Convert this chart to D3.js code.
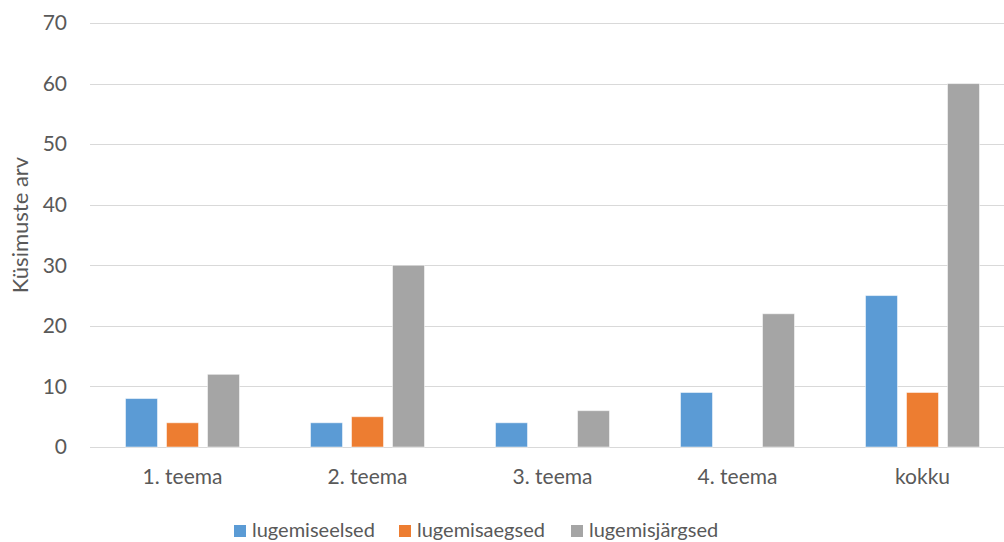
<!DOCTYPE html>
<html>
<head>
<meta charset="utf-8">
<script src="https://cdn.jsdelivr.net/npm/d3@7"></script>
<style>
  body { margin: 0; background: #fff; }
  text { font-family: Lato, "Liberation Sans", Arial, sans-serif; fill: #595959; }
</style>
</head>
<body>
<div class="chart"></div>
<script>
// data
var categories = ["1. teema", "2. teema", "3. teema", "4. teema", "kokku"];
var seriesNames = ["lugemiseelsed", "lugemisaegsed", "lugemisjärgsed"];
var lugemiseelsed = [8, 4, 4, 9, 25];
var lugemisaegsed = [4, 5, 0, 0, 9];
var lugemisjargsed = [12, 30, 6, 22, 60];
var yTicks = [0, 10, 20, 30, 40, 50, 60, 70];
var colors = ["#5b9bd5", "#ed7d31", "#a5a5a5"];

var svgWidth = 1004;
var svgHeight = 542;

var margin = { top: 23, right: -11, bottom: 95, left: 90 };
var width = svgWidth - margin.left - margin.right;
var height = svgHeight - margin.top - margin.bottom;

var svg = d3.select(".chart")
  .append("svg")
  .attr("width", svgWidth)
  .attr("height", svgHeight);

var chartGroup = svg.append("g")
  .attr("transform", `translate(${margin.left}, ${margin.top})`);

var allSeries = [lugemiseelsed, lugemisaegsed, lugemisjargsed];

var data = categories.map(function(c, i) {
  return { cat: c, values: allSeries.map((s, j) => ({ key: seriesNames[j], value: s[i], idx: j })) };
});

// scales
var xScale = d3.scaleBand()
  .domain(categories)
  .range([0, width]);

var xInner = d3.scaleBand()
  .domain(seriesNames)
  .range([0, 114])
  .paddingInner(0.22);

var yScale = d3.scaleLinear()
  .domain([0, 70])
  .range([height, 0]);

// gridlines
chartGroup.append("g")
  .selectAll("line")
  .data(yTicks)
  .enter()
  .append("line")
  .attr("x1", 0)
  .attr("x2", width)
  .attr("y1", d => Math.round(yScale(d)) + 0.5)
  .attr("y2", d => Math.round(yScale(d)) + 0.5)
  .attr("stroke", "#d9d9d9")
  .attr("stroke-width", 1);

// y axis labels
var leftAxis = d3.axisLeft(yScale).tickValues(yTicks).tickSize(0).tickPadding(23);
var yAxis = chartGroup.append("g").call(leftAxis);
yAxis.select(".domain").remove();
yAxis.selectAll("text")
  .style("font-size", "21px")
  .style("fill", "#595959")
  .attr("font-family", null);

// bars
var groups = chartGroup.selectAll(".grp")
  .data(data)
  .enter()
  .append("g")
  .attr("class", "grp")
  .attr("transform", d => `translate(${xScale(d.cat) + (xScale.bandwidth() - 114) / 2}, 0)`);

groups.selectAll("rect")
  .data(d => d.values.filter(v => v.value > 0))
  .enter()
  .append("rect")
  .attr("x", d => xInner(d.key))
  .attr("width", xInner.bandwidth())
  .attr("y", d => yScale(d.value))
  .attr("height", d => height - yScale(d.value))
  .attr("fill", d => colors[d.idx])
  .attr("stroke", "#ffffff")
  .attr("stroke-opacity", 0.5)
  .attr("stroke-width", 1);

// x axis labels
var bottomAxis = d3.axisBottom(xScale).tickSize(0).tickPadding(22);
var xAxis = chartGroup.append("g")
  .attr("transform", `translate(0, ${height})`)
  .call(bottomAxis);
xAxis.select(".domain").remove();
xAxis.selectAll("text")
  .style("font-size", "21px")
  .style("fill", "#595959")
  .attr("font-family", null);

// y axis title
svg.append("text")
  .attr("transform", "rotate(-90)")
  .attr("x", -225)
  .attr("y", 28)
  .style("text-anchor", "middle")
  .style("font-size", "22px")
  .text("Küsimuste arv");

// legend
var legendX = [234, 399, 571];
var legend = svg.append("g");
legend.selectAll("rect")
  .data(seriesNames)
  .enter()
  .append("rect")
  .attr("x", (d, i) => legendX[i])
  .attr("y", 525)
  .attr("width", 12)
  .attr("height", 12)
  .attr("fill", (d, i) => colors[i]);
legend.selectAll("text")
  .data(seriesNames)
  .enter()
  .append("text")
  .attr("x", (d, i) => legendX[i] + 18)
  .attr("y", 537)
  .style("font-size", "20px")
  .text(d => d);
</script>
</body>
</html>
